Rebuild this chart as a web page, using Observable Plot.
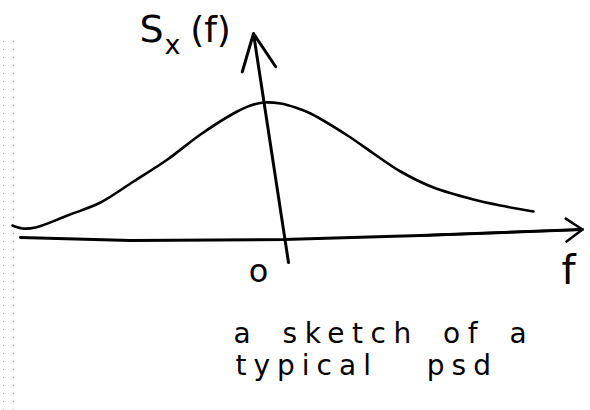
<!DOCTYPE html>
<html>
<head>
<meta charset="utf-8">
<script src="https://cdn.jsdelivr.net/npm/d3@7"></script>
<script src="https://cdn.jsdelivr.net/npm/@observablehq/plot@0.6"></script>
<style>
  body { margin: 0; background: #fff; }
</style>
</head>
<body>
<div id="chart"></div>
<script>
// Sketched power spectral density: frequency samples and S_x(f) heights
const freq = [-5.42, -5.22, -4.96, -4.32, -3.66, -3.0, -2.32, -1.66, -1.0, -0.66, -0.4, -0.06, 0.24, 0.54, 1.28, 1.8, 2.34, 3.0, 3.8, 4.34, 5.0];
const psd  = [0.28, 0.22, 0.24, 0.48, 0.74, 1.16, 1.6, 2.1, 2.52, 2.68, 2.74, 2.72, 2.64, 2.52, 2.08, 1.72, 1.36, 1.04, 0.8, 0.68, 0.56];

// Hand-drawn frequency axis (it drifts a little), f and S
const axisF = [-5.26, -3.06, 0, 2.74, 5.98];
const axisS = [0.04, -0.02, 0, 0.08, 0.2];

// Hand-drawn S axis, from bottom to arrow tip
const vAxisF = [0.1, -0.6];
const vAxisS = [-0.46, 4.12];

// Labels
const tickValues = [0];
const tickLabels = ["o"];
const xTitle = "f";
const yTitleParts = ["S", "x", "(f)"];
const captionLines = ["a sketch of a", "typical psd"];

const curve = freq.map((f, i) => ({f, s: psd[i]}));
const hAxis = axisF.map((f, i) => ({f, s: axisS[i]}));
const n = hAxis.length;

const font = "DejaVu Sans";

const chart = Plot.plot({
  width: 590,
  height: 410,
  margin: 0,
  x: {domain: [-5.66, 6.14], axis: null},
  y: {domain: [-3.42, 4.78], axis: null},
  style: {background: "#fff", fontFamily: font, color: "#000"},
  marks: [
    // faint scan marks along the left edge
    Plot.ruleX([-5.6, -5.4], {y1: -3.42, y2: 4.0, stroke: "#777", strokeWidth: 1, strokeDasharray: "1,7", strokeOpacity: 0.7}),
    // frequency axis and its arrowhead
    Plot.line(hAxis, {x: "f", y: "s", stroke: "#000", strokeWidth: 3}),
    Plot.arrow([hAxis[n - 1]], {
      x1: hAxis[n - 2].f, y1: hAxis[n - 2].s, x2: "f", y2: "s",
      stroke: "#000", strokeWidth: 2.5, headLength: 12, headAngle: 70
    }),
    // S axis with arrowhead
    Plot.arrow([{x1: vAxisF[0], y1: vAxisS[0], x2: vAxisF[1], y2: vAxisS[1]}], {
      x1: "x1", y1: "y1", x2: "x2", y2: "y2",
      stroke: "#000", strokeWidth: 3, headLength: 20, headAngle: 50
    }),
    // the spectral density curve
    Plot.line(curve, {x: "f", y: "s", curve: "catmull-rom", stroke: "#000", strokeWidth: 2.6}),
    // tick label at the origin
    Plot.text(tickValues, {x: d => d, y: -0.64, text: (d, i) => tickLabels[i], dx: -25, fontSize: 32, textAnchor: "middle"}),
    // f axis title
    Plot.text([xTitle], {x: 5.7, y: -0.64, text: d => d, fontSize: 40, textAnchor: "middle"}),
    // S_x(f) title
    Plot.text([yTitleParts[0]], {x: -2.64, y: 4.2, text: d => d, fontSize: 38, textAnchor: "middle"}),
    Plot.text([yTitleParts[1]], {x: -2.22, y: 3.88, text: d => d, fontSize: 27, textAnchor: "middle"}),
    Plot.text([yTitleParts[2]], {x: -1.46, y: 4.18, text: d => d, fontSize: 36, textAnchor: "middle"}),
    // caption
    Plot.text([captionLines[0]], {x: -1.0, y: -1.9, text: d => d, fontSize: 28, textAnchor: "start"}),
    Plot.text([captionLines[1]], {x: -0.96, y: -2.54, text: d => d, fontSize: 28, textAnchor: "start"})
  ]
});

// handwriting is loosely spaced
d3.select(chart).selectAll("text").each(function() {
  const t = this.textContent;
  if (t === captionLines[0]) d3.select(this).style("letter-spacing", "7.5px").style("word-spacing", "8px");
  if (t === captionLines[1]) d3.select(this).style("letter-spacing", "7px").style("word-spacing", "33px");
});

document.getElementById("chart").appendChild(chart);
</script>
</body>
</html>
